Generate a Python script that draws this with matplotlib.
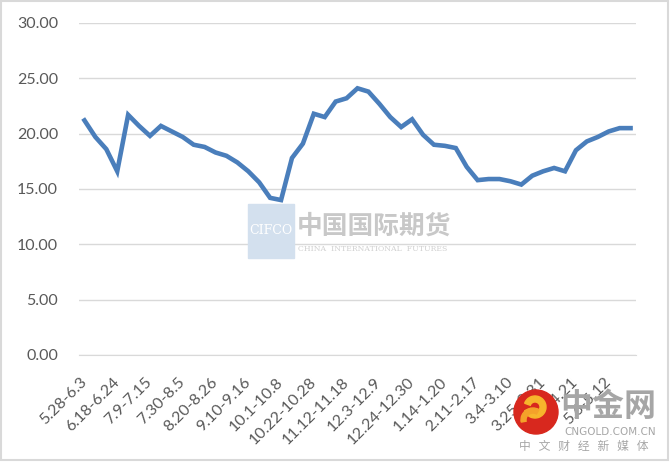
import matplotlib.pyplot as plt
from matplotlib.patches import Rectangle, Circle, Wedge
from matplotlib.transforms import ScaledTranslation

# weekly labels (only every 3rd one is shown on the axis)
weeks = ['5.28-6.3', '6.4-6.10', '6.11-6.17', '6.18-6.24', '6.25-7.1', '7.2-7.8',
         '7.9-7.15', '7.16-7.22', '7.23-7.29', '7.30-8.5', '8.6-8.12', '8.13-8.19',
         '8.20-8.26', '8.27-9.2', '9.3-9.9', '9.10-9.16', '9.17-9.23', '9.24-9.30',
         '10.1-10.8', '10.9-10.14', '10.15-10.21', '10.22-10.28', '10.29-11.4', '11.5-11.11',
         '11.12-11.18', '11.19-11.25', '11.26-12.2', '12.3-12.9', '12.10-12.16', '12.17-12.23',
         '12.24-12.30', '12.31-1.6', '1.7-1.13', '1.14-1.20', '1.21-1.27', '1.28-2.10',
         '2.11-2.17', '2.18-2.24', '2.25-3.3', '3.4-3.10', '3.11-3.17', '3.18-3.24',
         '3.25-3.31', '4.1-4.7', '4.8-4.14', '4.15-4.21', '4.22-4.28', '4.29-5.5',
         '5.6-5.12', '5.13-5.19', '5.20-5.26']
values = [21.2, 19.7, 18.6, 16.6, 21.7, 20.7, 19.8, 20.7, 20.2, 19.7,
          19.0, 18.8, 18.3, 18.0, 17.4, 16.6, 15.6, 14.2, 14.0, 17.8,
          19.1, 21.8, 21.5, 22.9, 23.2, 24.1, 23.8, 22.7, 21.5, 20.6,
          21.3, 19.9, 19.0, 18.9, 18.7, 17.0, 15.8, 15.9, 15.9, 15.7,
          15.4, 16.2, 16.6, 16.9, 16.6, 18.5, 19.3, 19.7, 20.2, 20.5, 20.5]
yticks = [0, 5, 10, 15, 20, 25, 30]

plt.rcParams['font.family'] = ['Lato', 'DejaVu Sans']
txt_col = '#595959'

fig = plt.figure(figsize=(6.7, 4.63), dpi=100)
ax = fig.add_axes([79/670, 1-355/463, (636-79)/670, (355-23)/463])

x = list(range(len(values)))
ax.plot(x, values, color='#4A7EBB', linewidth=3.3, solid_joinstyle='miter', zorder=3)

ax.set_xlim(-0.5, len(values)-0.5)
ax.set_ylim(0, 30)
ax.set_yticks(yticks)
ax.set_yticklabels(['%.2f' % v for v in yticks])
ax.yaxis.grid(True, color='#D9D9D9', linewidth=1)
ax.set_axisbelow(True)

ax.set_xticks(x[::3])
ax.set_xticklabels(weeks[::3], rotation=45, ha='right', va='center', rotation_mode='anchor')
# nudge the rotated labels a little to the right, like the original
shift = ScaledTranslation(3/100, 0, fig.dpi_scale_trans)
for lab in ax.get_xticklabels():
    lab.set_transform(lab.get_transform() + shift)

ax.tick_params(axis='y', length=0, pad=15, labelsize=11.5, labelcolor=txt_col)
ax.tick_params(axis='x', length=0, pad=18, labelsize=11.5, labelcolor=txt_col)
for s in ax.spines.values():
    s.set_visible(False)
ax.spines['bottom'].set_visible(True)
ax.spines['bottom'].set_color('#D9D9D9')

# overlay in pixel coords for the border and watermarks
ov = fig.add_axes([0, 0, 1, 1], zorder=10)
ov.set_xlim(0, 670)
ov.set_ylim(463, 0)
ov.axis('off')
ov.add_patch(Rectangle((1, 1), 667, 459, fill=False, edgecolor='#D9D9D9', linewidth=1.5))

# CIFCO watermark
ov.add_patch(Rectangle((248, 204), 46, 54, color='#D3E0EE', zorder=1))
ov.text(271, 231, 'CIFCO', color='white', fontsize=9, family='DejaVu Serif',
        ha='center', va='center', zorder=2)
ov.text(297, 226, '中国国际期货', color='#C8C8C8', fontsize=18.5, fontweight='bold',
        family=['Noto Sans CJK SC', 'DejaVu Sans'], ha='left', va='center', zorder=2)
ov.text(298, 249, 'CHINA  INTERNATIONAL  FUTURES', color='#D0D0D0', fontsize=5.6,
        family='DejaVu Serif', ha='left', va='center', zorder=2)

# cngold watermark
ov.add_patch(Circle((536, 412), 22, color='#D8281E', zorder=1))
ov.add_patch(Wedge((535, 407), 11, 200, 520, width=6, color='#F7B52C', zorder=2))
ov.add_patch(Wedge((533, 420), 12, 170, 300, width=5, color='#F4A22A', zorder=2))
ov.text(608, 407, '中金网', color='#A6A6A6', fontsize=23, fontweight='bold',
        family=['Noto Sans CJK SC', 'DejaVu Sans'], ha='center', va='center', zorder=2)
ov.text(610, 432, 'CNGOLD.COM.CN', color='#A6A6A6', fontsize=7.5,
        family='DejaVu Sans', ha='center', va='center', zorder=2)
ov.text(584, 446, '中   文   财   经   新   媒   体', color='#A6A6A6', fontsize=8.5,
        family=['Noto Sans CJK SC', 'DejaVu Sans'], ha='center', va='center', zorder=2)

fig.savefig('out.png', dpi=100)
